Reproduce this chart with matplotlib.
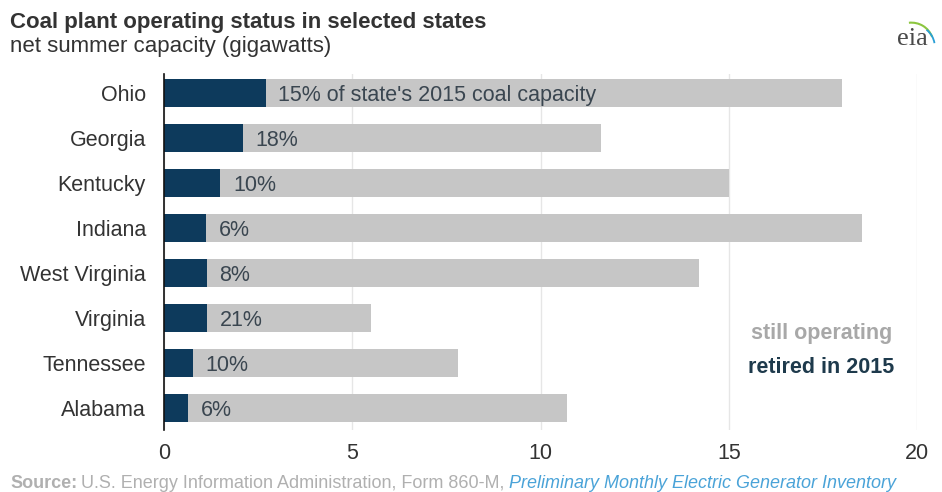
import matplotlib.pyplot as plt
from matplotlib.patches import Arc

plt.rcParams['font.family'] = ['Liberation Sans', 'DejaVu Sans']

# net summer capacity (GW) and share retired in 2015
states = ['Ohio', 'Georgia', 'Kentucky', 'Indiana', 'West Virginia',
          'Virginia', 'Tennessee', 'Alabama']
total_gw = [18.0, 11.6, 15.0, 18.55, 14.2, 5.5, 7.8, 10.7]
retired_pct = [15, 18, 10, 6, 8, 21, 10, 6]
pct_labels = ["15% of state's 2015 coal capacity", '18%', '10%', '6%',
              '8%', '21%', '10%', '6%']
xticks = [0, 5, 10, 15, 20]

retired_gw = [t * p / 100 for t, p in zip(total_gw, retired_pct)]

navy = '#0d3a5c'
grey = '#c6c6c6'
txt = '#333333'
fs = 15.5

fig = plt.figure(figsize=(9.42, 4.92), dpi=100)
ax = fig.add_axes([0.1741, 0.126, 0.7994, 0.7236])

y = list(range(len(states)))
ax.barh(y, total_gw, height=0.62, color=grey, zorder=2)
ax.barh(y, retired_gw, height=0.62, color=navy, zorder=3)

for yi, r, lab in zip(y, retired_gw, pct_labels):
    ax.annotate(lab, (r, yi), xytext=(9, -2), textcoords='offset points',
                ha='left', va='center', fontsize=fs, color='#3a4650', zorder=4)

ax.set_xlim(0, 20)
ax.set_ylim(7.49, -0.42)
ax.set_yticks(y)
ax.set_yticklabels(states, fontsize=fs, color=txt)
ax.set_xticks(xticks)
ax.set_xticklabels([str(v) for v in xticks], fontsize=fs, color=txt)
ax.tick_params(axis='both', length=0)
ax.tick_params(axis='y', pad=13)
ax.tick_params(axis='x', pad=9)

ax.grid(axis='x', color='#e6e6e6', linewidth=1, zorder=0)
for s in ['top', 'right', 'bottom']:
    ax.spines[s].set_visible(False)
ax.spines['left'].set_color('#111111')
ax.spines['left'].set_linewidth(1.2)
ax.spines['left'].set_zorder(5)

# legend as coloured text
fig.text(0.872, 0.323, 'still operating', ha='center', va='center',
         fontsize=fs, fontweight='bold', color='#a8a8a8')
fig.text(0.872, 0.254, 'retired in 2015', ha='center', va='center',
         fontsize=fs, fontweight='bold', color='#1e3a4c')

# title block
fig.text(0.0106, 0.955, 'Coal plant operating status in selected states',
         fontsize=16, fontweight='bold', color='#333333', ha='left', va='center')
fig.text(0.0106, 0.906, 'net summer capacity (gigawatts)',
         fontsize=16, color='#333333', ha='left', va='center')

# eia mark
fig.text(0.969, 0.92, 'eia', family='Liberation Serif', fontsize=19,
         color='#4a4a4a', ha='center', va='center')
lax = fig.add_axes([0.94, 0.91, 0.055, 0.08])
lax.set_xlim(0, 1)
lax.set_ylim(0, 1)
lax.axis('off')
lax.add_patch(Arc((0.5, 0.0), 0.85, 1.1, theta1=25, theta2=95, color='#8cc63f', lw=1.5))
lax.add_patch(Arc((0.5, -0.05), 0.9, 1.1, theta1=10, theta2=55, color='#2a9fd6', lw=1.3))

# source line
src = fig.text(0.0106, 0.018, 'Source:', fontsize=13, fontweight='bold',
               color='#b0b0b0', ha='left', va='center')
fig.canvas.draw()
bb = src.get_window_extent()
src2 = fig.text(bb.x1 / 942 + 0.004, 0.018,
                'U.S. Energy Information Administration, Form 860-M,',
                fontsize=13, color='#b0b0b0', ha='left', va='center')
fig.canvas.draw()
bb2 = src2.get_window_extent()
fig.text(bb2.x1 / 942 + 0.005, 0.018,
         'Preliminary Monthly Electric Generator Inventory',
         fontsize=13, style='italic', color='#4aa3d8', ha='left', va='center')

plt.savefig('out.png', dpi=100)
plt.close()
